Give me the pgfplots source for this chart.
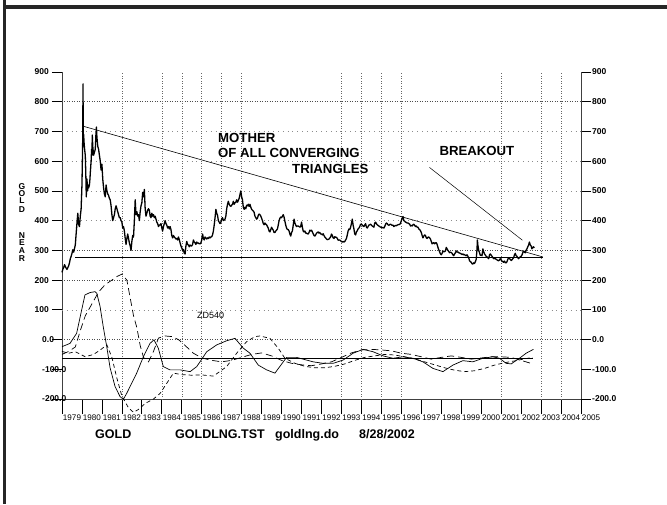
\documentclass[border=0pt]{standalone}
\usepackage{pgfplots}
\pgfplotsset{compat=1.18}
\usepackage{fontspec}
\setmainfont{Liberation Sans}
\begin{document}
\begin{tikzpicture}[x=1pt,y=1pt]
\useasboundingbox (0,0) rectangle (667,504);
\pgfplotsset{
  base/.style={
    scale only axis, width=519pt, height=327pt,
    at={(62pt,105pt)}, anchor=south west,
    xmin=0, xmax=312, ymin=-200, ymax=900,
    clip=false, tick align=outside,
    /pgf/number format/assume math mode=true,
    axis line style={line width=0.8pt, black!75},
  },
  ylab/.style={font=\bfseries\fontsize{8.5}{9}\selectfont},
}
% x axis
\begin{axis}[base, axis x line*=bottom, axis y line=none,
  major tick length=15pt,
  xtick={0,12,...,312},
  xticklabels={1979,1980,1981,1982,1983,1984,1985,1986,1987,1988,1989,1990,1991,1992,1993,1994,1995,1996,1997,1998,1999,2000,2001,2002,2003,2004,2005},
  xtick style={line width=0.7pt, black},
  xticklabel style={font=\fontsize{8.1}{9}\selectfont, xshift=10pt, inner sep=0.5pt}]
\end{axis}
% right y axis
\begin{axis}[base, axis x line=none, axis y line*=right,
  major tick length=10pt,
  ytick={100,200,...,900},
  yticklabels={100,200,300,400,500,600,700,800,900},
  extra y ticks={-200,-100,0},
  extra y tick labels={-200.0,-100.0,0.0},
  ytick style={line width=0.7pt, black},
  yticklabel style={ylab, inner sep=1pt}]
\end{axis}
% left y axis + data
\begin{axis}[base, axis x line=none, axis y line*=left,
  major tick length=10pt,
  ytick={100,200,...,900},
  yticklabels={100,200,300,400,500,600,700,800,900},
  extra y ticks={-200,-100,0},
  extra y tick labels={-200.0,-100.0,0.0},
  extra y tick style={yticklabel style={anchor=west, xshift=-9pt}},
  ytick style={line width=0.7pt, black},
  yticklabel style={ylab, inner sep=1pt, xshift=-2pt}]
% grid
\foreach \g in {800,300,200,0}{\edef\tmp{\noexpand\draw[black!70, dotted, line width=0.5pt] (axis cs:0,\g) -- (axis cs:312,\g);}\tmp}
\foreach \g in {700,600,500,400,100}{\edef\tmp{\noexpand\draw[black!45, dash pattern=on 0.8pt off 4pt, line width=0.5pt] (axis cs:0,\g) -- (axis cs:312,\g);}\tmp}
\foreach \g in {36,60,72,84,96,108,168,180,192,204,264,288,300}{\edef\tmp{\noexpand\draw[black!60, dotted, line width=0.5pt] (axis cs:\g,-200) -- (axis cs:\g,900);}\tmp}
% triangle lines
\addplot[black, line width=0.6pt] coordinates {(12.5,718) (289,278)};
\addplot[black, line width=0.6pt] coordinates {(8,276) (289,276)};
\addplot[black, line width=0.5pt] coordinates {(220.9,579) (276.8,334)};
\addplot[black, line width=0.8pt] coordinates {(0,-62) (283,-62)};
% gold price
\addplot[black, line width=1.3pt, line join=round] table {
t v
0 226
0.5 236
1 242
1.5 252
2 246
2.5 240
3 236
3.5 242
4 248
4.5 258
5 272
5.5 280
6 290
6.5 302
7 294
7.5 306
8 318
8.5 356
9 392
9.5 425
10 388
10.5 380
11 415
11.5 440
12 520
12.4 650
12.65 860
12.75 680
13 690
13.3 660
13.6 640
14 620
14.3 560
14.6 480
14.8 520
15 540
15.4 500
15.7 520
16 510
16.5 520
16.8 540
17 560
17.5 600
17.8 640
18 620
18.2 688
18.5 650
19 620
19.5 630
20 640
20.4 690
20.7 715
21 680
21.5 650
22 640
22.5 620
23 600
23.5 570
24 590
24.5 540
25 510
25.5 490
26 480
26.5 520
27 500
27.5 490
28 485
28.5 475
29 470
29.5 450
30 420
30.5 400
31 410
31.5 420
32 440
32.5 450
33 440
33.5 430
34 420
34.5 410
35 410
35.5 400
36 395
36.5 375
37 380
37.5 365
38 340
38.5 320
39 340
39.5 355
40 340
40.5 325
41 315
41.5 300
42 330
42.5 350
43 345
43.5 400
44 470
44.5 420
45 430
45.5 415
46 420
46.5 400
47 430
47.5 450
48 460
48.5 495
49 480
49.5 505
50 440
50.5 415
51 425
51.5 435
52 440
52.5 435
53 415
53.5 410
54 425
54.5 415
55 420
55.5 410
56 415
56.5 405
57 395
57.5 390
58 380
58.5 385
59 385
59.5 390
60 375
60.5 365
61 380
61.5 390
62 400
62.5 390
63 385
63.5 375
64 380
64.5 372
65 380
65.5 370
66 350
66.5 342
67 350
67.5 345
68 342
68.5 338
69 340
69.5 335
70 345
70.5 336
71 325
71.5 315
72 308
72.5 300
73 303
73.5 290
74 288
74.5 315
75 330
75.5 320
76 318
76.5 312
77 318
77.5 315
78 315
78.5 320
79 335
79.5 328
80 325
80.5 320
81 328
81.5 324
82 325
82.5 322
83 322
83.5 325
84 335
84.5 355
85 340
85.5 335
86 345
86.5 342
87 338
87.5 342
88 340
88.5 345
89 342
89.5 345
90 346
90.5 352
91 365
91.5 385
92 410
92.5 438
93 425
93.5 418
94 400
94.5 395
95 390
95.5 395
96 405
96.5 410
97 400
97.5 402
98 405
98.5 415
99 440
99.5 455
100 465
100.5 455
101 450
101.5 448
102 452
102.5 455
103 465
103.5 455
104 460
104.5 462
105 470
105.5 462
106 468
106.5 475
107 488
107.5 500
108 480
108.5 470
109 445
109.5 438
110 445
110.5 440
111 452
111.5 450
112 455
112.5 448
113 455
113.5 445
114 438
114.5 435
115 432
115.5 428
116 415
116.5 410
117 405
117.5 408
118 418
118.5 422
119 420
119.5 415
120 408
120.5 400
121 390
121.5 386
122 392
122.5 388
123 386
123.5 380
124 375
124.5 365
125 362
125.5 370
126 378
126.5 372
127 368
127.5 360
128 360
128.5 365
129 368
129.5 372
130 385
130.5 400
131 408
131.5 412
132 410
132.5 415
133 420
133.5 412
134 398
134.5 385
135 375
135.5 370
136 370
136.5 365
137 355
137.5 348
138 360
138.5 365
139 385
139.5 405
140 392
140.5 385
141 380
141.5 382
142 382
142.5 380
143 378
143.5 380
144 395
144.5 378
145 365
145.5 362
146 365
146.5 358
147 358
147.5 356
148 355
148.5 360
149 368
149.5 365
150 368
150.5 362
151 356
151.5 350
152 348
152.5 352
153 358
153.5 360
154 362
154.5 358
155 360
155.5 355
156 355
156.5 352
157 356
157.5 350
158 345
158.5 342
159 338
159.5 336
160 337
160.5 338
161 342
161.5 345
162 355
162.5 350
163 342
163.5 340
164 346
164.5 344
165 344
165.5 340
166 334
166.5 335
167 335
167.5 332
168 330
168.5 328
169 330
169.5 328
170 330
170.5 335
171 340
171.5 352
172 365
172.5 372
173 370
173.5 378
174 390
174.5 405
175 385
175.5 372
176 355
176.5 352
177 362
177.5 366
178 372
178.5 375
179 380
179.5 388
180 388
180.5 385
181 382
181.5 380
182 385
182.5 390
183 378
183.5 375
184 380
184.5 385
185 386
185.5 388
186 385
186.5 382
187 380
187.5 378
188 392
188.5 395
189 390
189.5 386
190 384
190.5 382
191 380
191.5 378
192 378
192.5 376
193 377
193.5 375
194 380
194.5 388
195 392
195.5 390
196 386
196.5 384
197 387
197.5 388
198 386
198.5 384
199 385
199.5 380
200 382
200.5 384
201 383
201.5 385
202 386
202.5 387
203 387
203.5 392
204 400
204.5 408
205 414
205.5 400
206 398
206.5 395
207 394
207.5 392
208 392
208.5 390
209 388
209.5 382
210 384
210.5 382
211 386
211.5 388
212 384
212.5 380
213 382
213.5 378
214 378
214.5 372
215 370
215.5 366
216 360
216.5 350
217 342
217.5 348
218 352
218.5 350
219 342
219.5 340
220 344
220.5 345
221 342
221.5 338
222 330
222.5 322
223 324
223.5 326
224 322
224.5 325
225 326
225.5 320
226 310
226.5 302
227 295
227.5 288
228 285
228.5 290
229 298
229.5 295
230 296
230.5 298
231 310
231.5 305
232 300
232.5 296
233 292
233.5 294
234 293
234.5 290
235 285
235.5 282
236 288
236.5 292
237 298
237.5 294
238 295
238.5 292
239 291
239.5 290
240 288
240.5 286
241 288
241.5 285
242 286
242.5 283
243 282
243.5 285
244 280
244.5 275
245 265
245.5 262
246 260
246.5 255
247 254
247.5 258
248 256
248.5 262
249 270
249.5 305
249.7 335
250 318
250.5 300
251 292
251.5 283
252 285
252.5 282
253 305
253.5 295
254 288
254.5 284
255 280
255.5 278
256 275
256.5 272
257 285
257.5 288
258 284
258.5 280
259 276
259.5 272
260 273
260.5 272
261 270
261.5 268
262 266
262.5 265
263 268
263.5 272
264 268
264.5 264
265 262
265.5 260
266 264
266.5 258
267 258
267.5 262
268 270
268.5 275
269 272
269.5 270
270 266
270.5 268
271 272
271.5 275
272 285
272.5 290
273 282
273.5 280
274 275
274.5 272
275 276
275.5 278
276 280
276.5 284
277 292
277.5 298
278 294
278.5 292
279 300
279.5 305
280 312
280.5 318
281 328
281.5 318
282 315
282.5 305
283 310
283.5 312
283.9 308
};
% oscillator solid
\addplot[black, line width=0.7pt] table {
t v
0 -24
4.8 -13
8.8 21
11.8 99
13.8 150
16.8 158
19.8 161
20.9 156
22.9 111
24.8 43
26.9 -24
28.9 -95
31.9 -158
34.9 -192
36.9 -201
38.9 -181
44.9 -113
48.9 -58
52.9 -13
55.3 -1
57.9 -29
60.9 -91
64.9 -102
71 -102
77 -108
81 -91
85 -58
87 -41
93 -18
99 -4
104 4
109 -29
113 -46
118 -86
123 -102
128 -113
135 -60
141 -60
147 -69
151 -75
157 -80
163 -80
169 -69
175 -46
181 -33
187 -41
193 -55
199 -63
205 -58
211 -63
217 -75
223 -97
229 -108
235 -86
241 -71
247 -75
253 -63
259 -58
263 -63
267 -80
270 -82
275 -63
279 -46
283.4 -33
};
% oscillator long dash
\addplot[black, line width=0.7pt, dash pattern=on 7pt off 4pt] table {
t v
0 -50
4 -40
8 -25
11 30
14 80
18 120
22 160
26 185
30 200
33 212
36 220
39 200
41 140
43 80
45 40
47 -20
49 -60
52 -75
55 -40
58 5
62 12
66 10
70 0
74 -20
79 -46
84 -62
90 -70
96 -75
102 -70
108 -60
114 -50
120 -45
126 -55
132 -70
138 -80
144 -85
150 -88
156 -82
162 -75
168 -60
174 -45
180 -35
186 -33
192 -35
198 -38
204 -46
210 -50
216 -58
222 -66
228 -60
234 -55
240 -60
246 -66
252 -62
258 -58
264 -58
270 -60
276 -70
283 -82
};
% oscillator short dash
\addplot[black, line width=0.7pt, dash pattern=on 4pt off 3pt] table {
t v
0 -40
4 -46
8 -41
14 -58
19 -50
23 -35
27 -18
30 -60
33 -130
36 -190
40 -230
43 -245
46 -235
50 -215
55 -200
59 -181
63 -147
67 -113
72 -118
78 -120
84 -119
91 -123
99 -91
105 -46
111 -7
116 10
119 12
125 4
130 -29
134 -63
140 -80
146 -90
152 -95
158 -95
164 -90
170 -82
176 -70
182 -60
188 -55
194 -50
200 -52
206 -58
212 -65
218 -75
224 -85
230 -95
236 -103
242 -108
248 -105
254 -97
260 -86
266 -78
272 -72
278 -65
283 -60
};
\end{axis}
% frame
\draw[black!85, line width=3.5pt] (3,497) -- (667,497);
\draw[black!85, line width=3pt] (4.5,504) -- (4.5,0);
% annotations
\begin{scope}[every node/.style={font=\bfseries\fontsize{13.2}{14}\selectfont, inner sep=0pt}]
\node[anchor=base west] at (218,361.3) {MOTHER};
\node[anchor=base west] at (218,346.8) {OF ALL CONVERGING};
\node[anchor=base west] at (292,330.8) {TRIANGLES};
\node[anchor=base west] at (439.3,348.3) {BREAKOUT};
\end{scope}
\node[anchor=base west, inner sep=0pt, font=\fontsize{9}{10}\selectfont] at (197,185) {ZD540};
\begin{scope}[every node/.style={font=\bfseries\fontsize{12.5}{13}\selectfont, inner sep=0pt, anchor=base west}]
\node at (95,66) {GOLD};
\node at (175,66) {GOLDLNG.TST};
\node at (275,66) {goldlng.do};
\node at (359,66) {8/28/2002};
\end{scope}
\begin{scope}[every node/.style={font=\bfseries\fontsize{8.5}{9}\selectfont, inner sep=0pt, anchor=base}]
\node at (22,314.7) {G};
\node at (22,307.3) {O};
\node at (22,300) {L};
\node at (22,291.7) {D};
\node at (22,265.7) {N};
\node at (22,258.3) {E};
\node at (22,250.7) {A};
\node at (22,242.3) {R};
\end{scope}
\end{tikzpicture}
\end{document}
